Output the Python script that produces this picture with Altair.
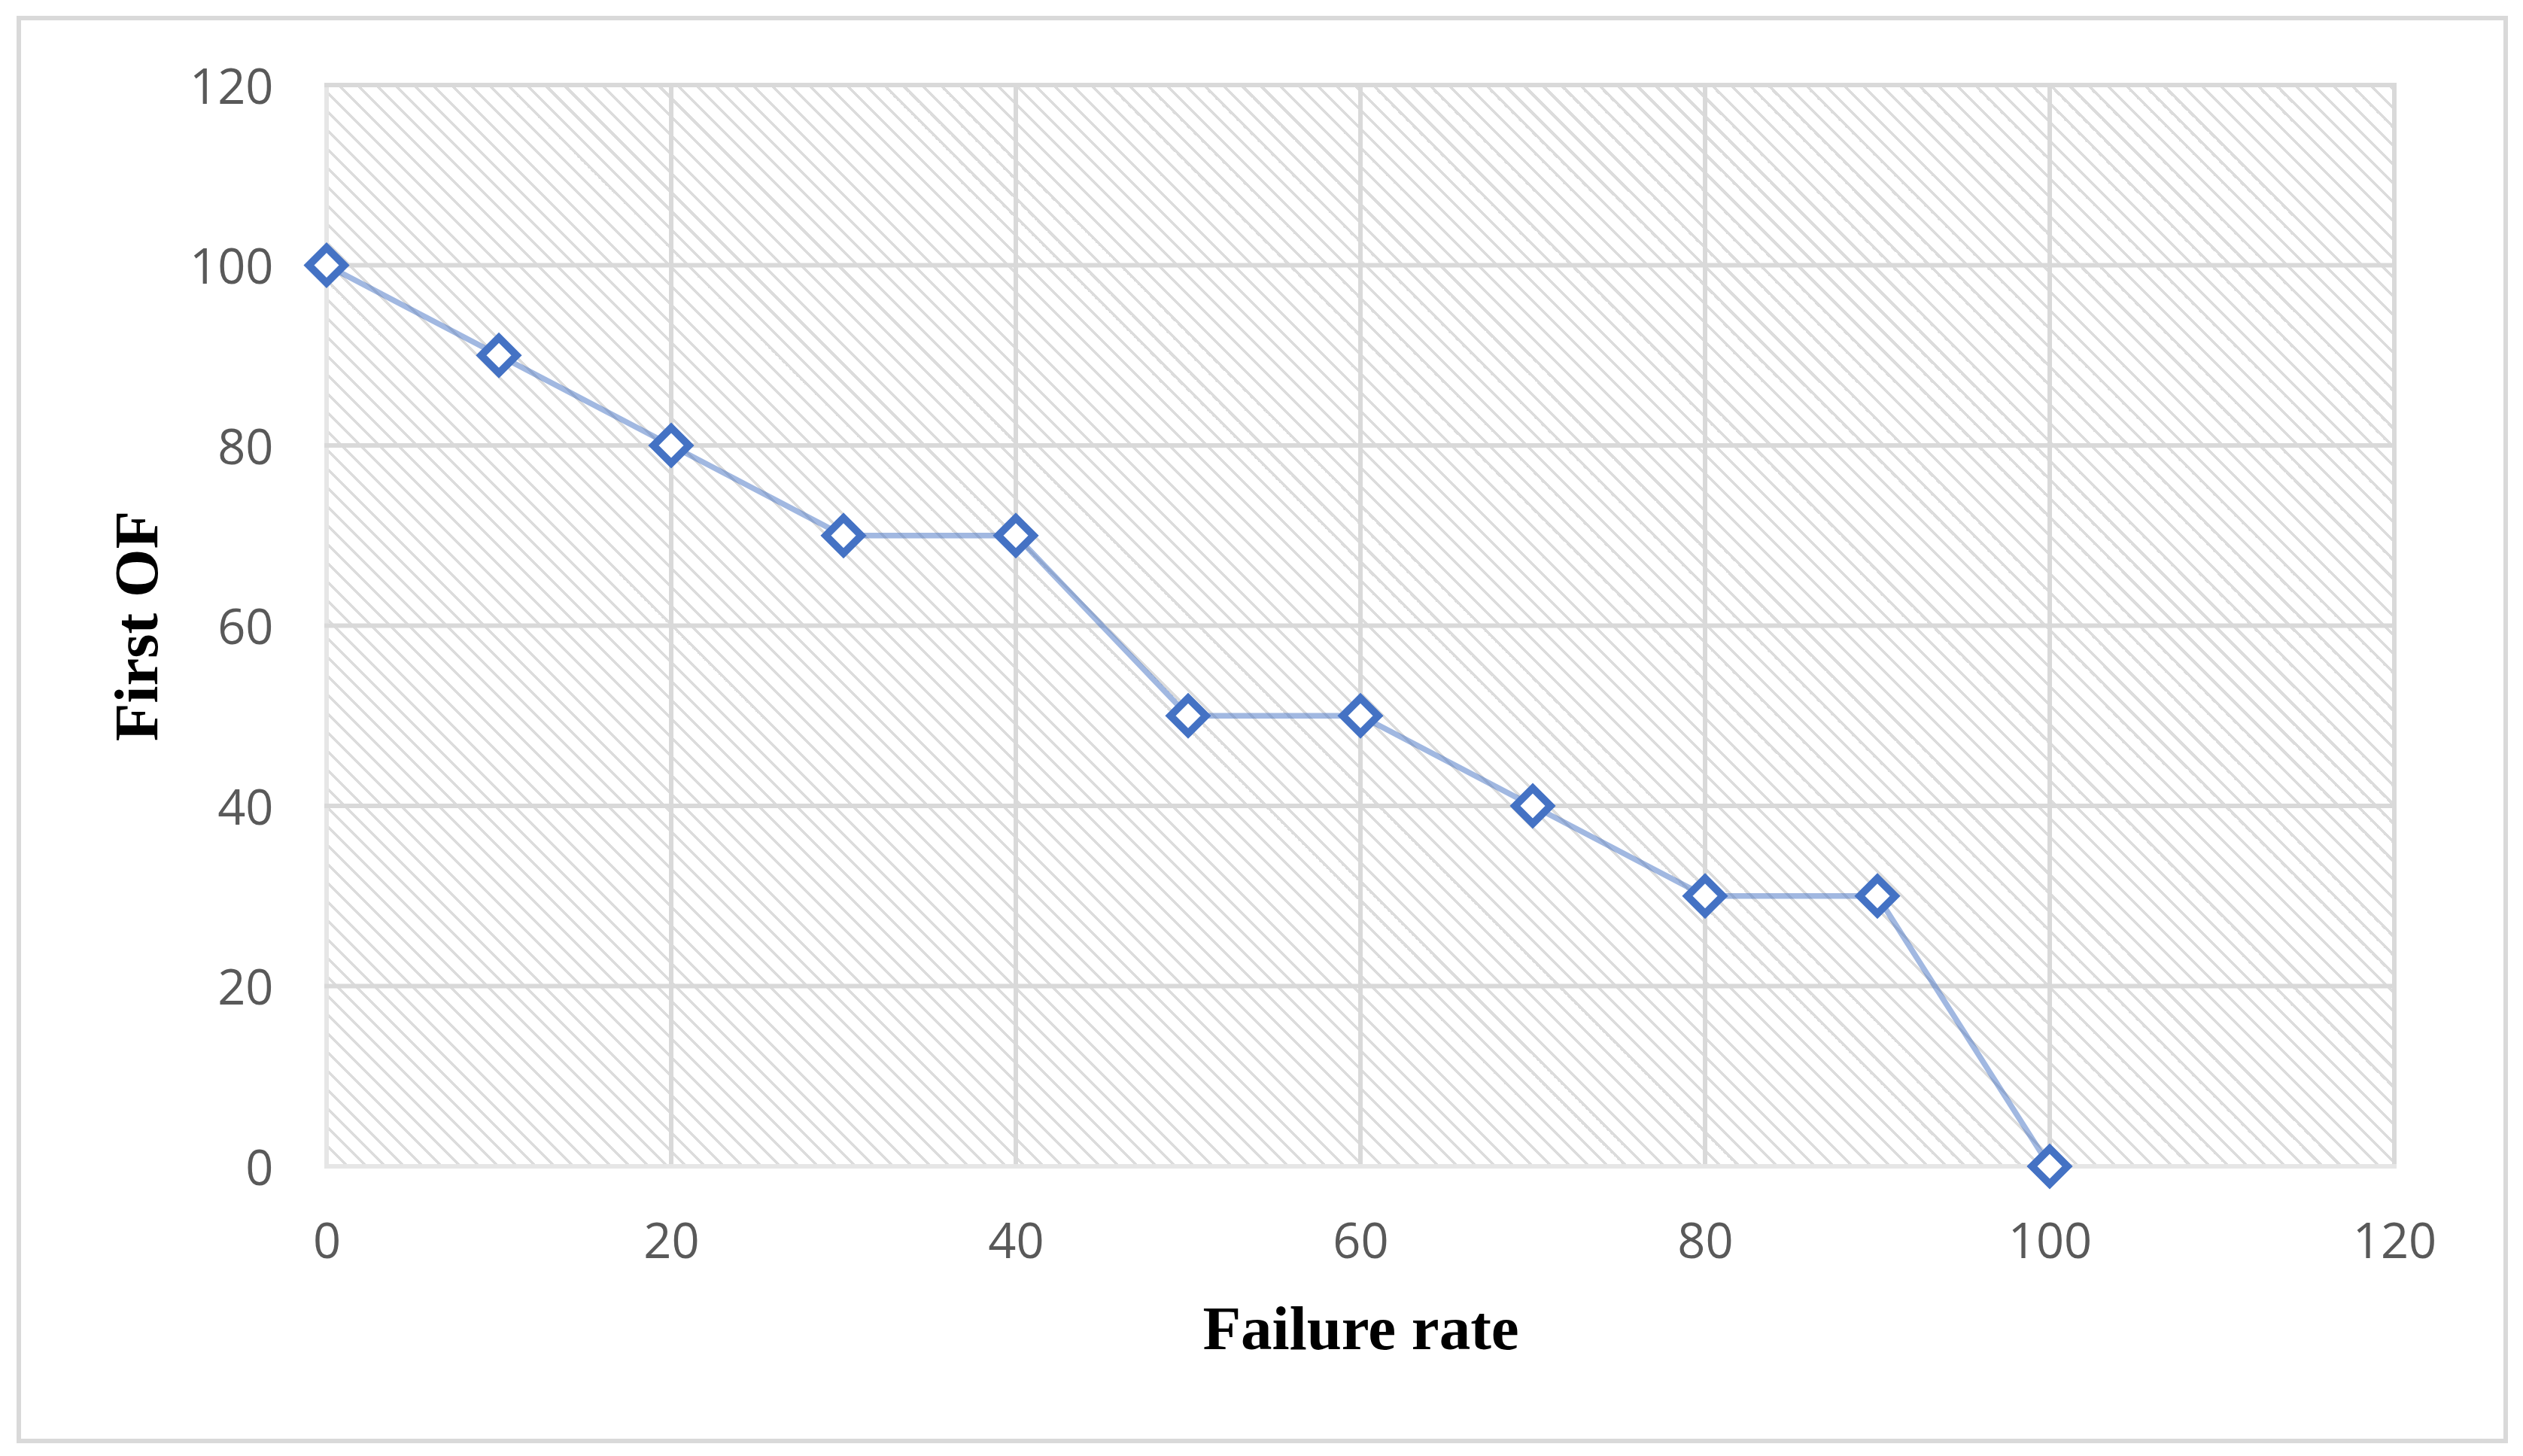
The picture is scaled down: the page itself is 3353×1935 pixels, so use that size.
import altair as alt
import pandas as pd

# ---- data ----
failure_rate = [0, 10, 20, 30, 40, 50, 60, 70, 80, 90, 100]
first_of = [100, 90, 80, 70, 70, 50, 50, 40, 30, 30, 0]
axis_ticks = [0, 20, 40, 60, 80, 100, 120]

# ---- layout ----
W, H = 2748, 1437
PAD_L, PAD_T = 426, 105

df = pd.DataFrame({"Failure rate": failure_rate, "First OF": first_of})
ticks_df = pd.DataFrame({"t": axis_ticks})

# ---- hatch background as a striped linear gradient ("\" diagonal stripes) ----
r = H / W
x1, y1 = -r / (1 + r * r), r * r / (1 + r * r)
x2, y2 = 1 / (1 + r * r), -r / (1 + r * r)
period = 25.0 / (W + H)
band = 0.23 * period
stops = []
k = 0
while k * period < 1:
    b = k * period
    for off, col in [(b, "#dcdcdc"), (b + band, "#dcdcdc"), (b + band, "#ffffff"), (b + period, "#ffffff")]:
        stops.append({"offset": min(off, 1.0), "color": col})
    k += 1
hatch = {"gradient": "linear", "x1": x1, "y1": y1, "x2": x2, "y2": y2, "stops": stops}

x_scale = alt.Scale(domain=[0, 120], nice=False, zero=False)
y_scale = alt.Scale(domain=[0, 120], nice=False, zero=False)

label_font = "Open Sans"
title_font = "Liberation Serif"

x_axis = alt.Axis(
    values=axis_ticks, grid=False, domain=False, ticks=False, tickSize=0,
    labelFlush=False, labelPadding=101, labelBaseline="middle", labelFont=label_font,
    labelFontSize=65, labelColor="#595959", title="Failure rate", titleFont=title_font,
    titleFontSize=83, titleFontWeight="bold", titleColor="#000000",
    titleBaseline="alphabetic", titleAlign="center", titleX=W / 2, titleY=242,
)
y_axis = alt.Axis(
    values=axis_ticks, grid=False, domain=False, ticks=False, tickSize=0,
    labelFlush=False, labelPadding=71, labelOffset=4, labelBaseline="middle",
    labelFont=label_font, labelFontSize=65, labelColor="#595959", title="First OF",
    titleFont=title_font, titleFontSize=83, titleFontWeight="bold", titleColor="#000000",
    titleAngle=270, titleBaseline="alphabetic", titleAlign="center", titleX=-226,
    titleY=H / 2,
)

background = alt.Chart(alt.Data(values=[{}])).mark_rect(fill=hatch).encode(
    x=alt.value(0), x2=alt.value("width"), y=alt.value(0), y2=alt.value("height")
)

grid_color = alt.condition(alt.datum.t == 0, alt.value("#e6e6e6"), alt.value("#d9d9d9"))

vgrid = alt.Chart(ticks_df).mark_rule(strokeWidth=6, strokeCap="square").encode(
    x=alt.X("t:Q", scale=x_scale, axis=x_axis, title="Failure rate"),
    color=grid_color,
)
hgrid = alt.Chart(ticks_df).mark_rule(strokeWidth=6, strokeCap="square").encode(
    y=alt.Y("t:Q", scale=y_scale, axis=y_axis, title="First OF"),
    color=grid_color,
)

line = alt.Chart(df).mark_line(color="#4472c4", strokeOpacity=0.5, strokeWidth=7.5).encode(
    x=alt.X("Failure rate:Q", scale=x_scale, axis=x_axis, title="Failure rate"),
    y=alt.Y("First OF:Q", scale=y_scale, axis=y_axis, title="First OF"),
)
points = alt.Chart(df).mark_point(
    shape="diamond", size=2209, filled=True, fill="#ffffff", stroke="#4472c4",
    strokeWidth=10, fillOpacity=1, strokeOpacity=1, opacity=1,
).encode(
    x=alt.X("Failure rate:Q", scale=x_scale, axis=x_axis, title="Failure rate"),
    y=alt.Y("First OF:Q", scale=y_scale, axis=y_axis, title="First OF"),
)

# outer chart-area border
frame = alt.Chart(alt.Data(values=[{}])).mark_rect(
    fillOpacity=0, stroke="#d9d9d9", strokeWidth=6
).encode(
    x=alt.value(-409), x2=alt.value(W + 148), y=alt.value(-89), y2=alt.value(H + 365)
)

chart = alt.layer(background, vgrid, hgrid, line, points, frame).properties(
    width=W, height=H,
    autosize=alt.AutoSizeParams(type="none"),
    padding={"left": PAD_L, "top": PAD_T, "right": 160, "bottom": 370},
    background="#ffffff",
).configure_view(stroke=None)

chart.save("out.html", embed_options={"renderer": "svg", "actions": False})
